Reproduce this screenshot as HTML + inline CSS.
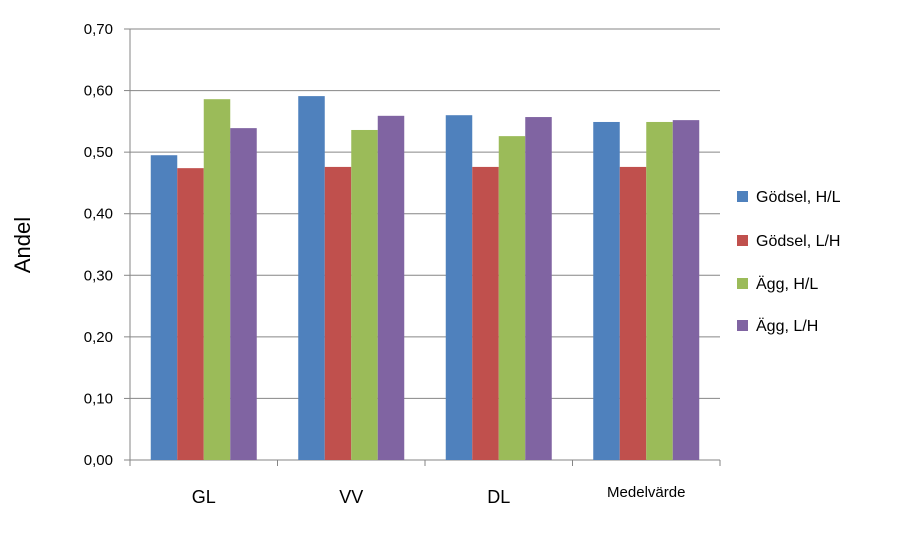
<!DOCTYPE html>
<html><head><meta charset="utf-8"><style>
body{margin:0;background:#fff}
svg text{font-family:"Liberation Sans",sans-serif;fill:#000}
</style></head><body>
<svg id="chart" width="902" height="542"></svg>
<script>
const categories=["GL","VV","DL","Medelvärde"];
const seriesNames=["Gödsel, H/L","Gödsel, L/H","Ägg, H/L","Ägg, L/H"];
const seriesColors=["#4f81bd","#c0504d","#9bbb59","#8064a2"];
const godselHL=[0.495,0.591,0.560,0.549];
const godselLH=[0.474,0.476,0.476,0.476];
const aggHL=[0.586,0.536,0.526,0.549];
const aggLH=[0.539,0.559,0.557,0.552];
const yTicks=[0,0.1,0.2,0.3,0.4,0.5,0.6,0.7];
const series=[godselHL,godselLH,aggHL,aggLH];
const NS="http://www.w3.org/2000/svg";
const svg=document.getElementById('chart');
const x0=130,x1=720,yb=460,yt=29,ymax=0.7;
const y=v=>yb-(v/ymax)*(yb-yt);
const slot=(x1-x0)/categories.length;
const bw=26.5;
function mk(t,a){const e=document.createElementNS(NS,t);for(const k in a)e.setAttribute(k,a[k]);svg.appendChild(e);return e;}
yTicks.forEach(v=>{
  const g=mk('line',{x1:x0,x2:x1,y1:y(v),y2:y(v),stroke:'#868686','stroke-width':1});
  
  
  const tk=mk('line',{x1:x0-6,x2:x0,y1:y(v),y2:y(v),stroke:'#868686'});
  
  
  const t=mk('text',{x:113,y:y(v)+5,'text-anchor':'end','font-size':15});
  t.textContent=v.toFixed(2).replace('.',',');
  
  
});
const ax=mk('line',{x1:x0,x2:x0,y1:yt,y2:yb,stroke:'#868686'});


for(let i=0;i<=categories.length;i++){
  const tk=mk('line',{x1:x0+i*slot,x2:x0+i*slot,y1:yb,y2:yb+6,stroke:'#868686'});
  
  
}
categories.forEach((c,i)=>{
  const cx=x0+slot*(i+0.5);
  series.forEach((s,j)=>{
    const r=mk('rect',{x:cx-2*bw+j*bw,y:y(s[i]),width:bw,height:yb-y(s[i]),fill:seriesColors[j]});
    
    
  });
  const small=c.length>3;
  const t=mk('text',{x:cx,y:small?497:503,'text-anchor':'middle','font-size':small?15:18});
  t.textContent=c;
  
  
});
const ttl=mk('text',{x:0,y:0,'text-anchor':'middle','font-size':22,transform:'translate(30,245) rotate(-90)'});
ttl.textContent='Andel';


const ly=[196,240,283,325];
seriesNames.forEach((n,j)=>{
  const r=mk('rect',{x:737,y:ly[j]-5,width:11,height:11,fill:seriesColors[j]});
  
  
  const t=mk('text',{x:756,y:ly[j]+6,'font-size':16});
  t.textContent=n;
  
  
});
</script>
</body></html>
